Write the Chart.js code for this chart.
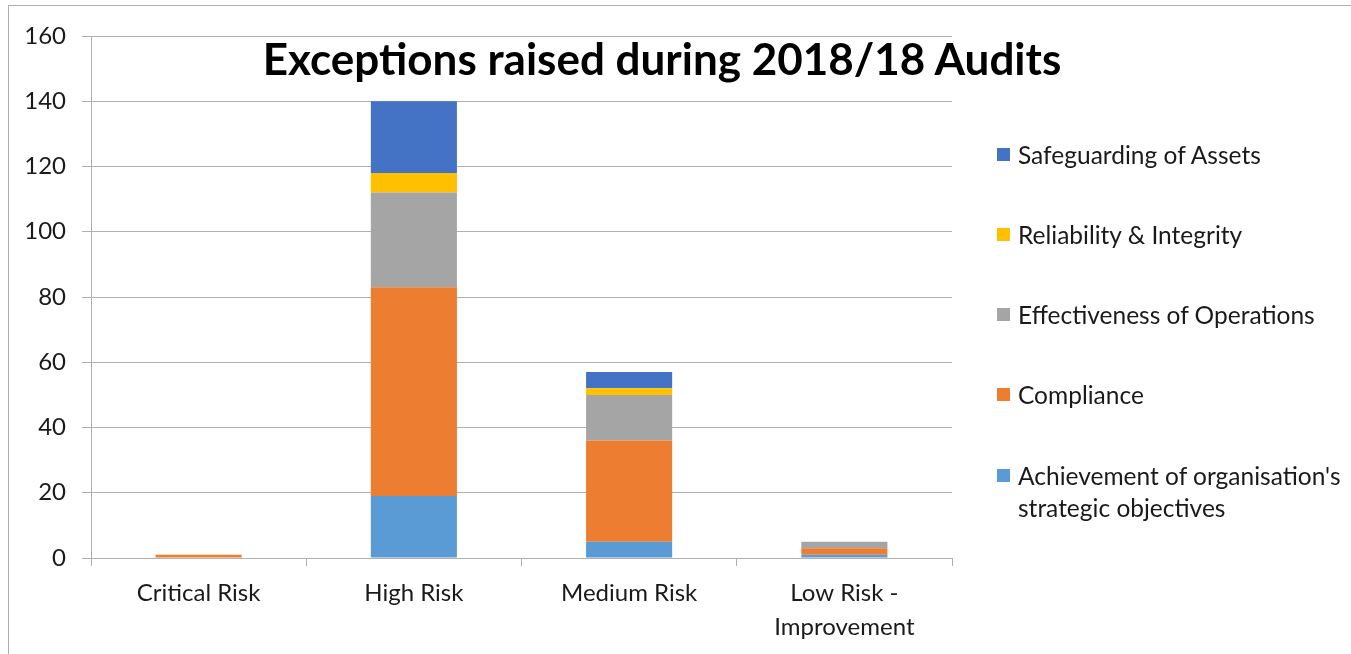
<!DOCTYPE html>
<html lang="en">
<head>
    <meta charset="UTF-8">
    <title>Exceptions raised during 2018/18 Audits</title>
    <script src="https://cdn.jsdelivr.net/npm/chart.js"></script>
    <style>
        body, html {
            margin: 0;
            padding: 0;
            background: #fff;
            font-family: Lato, sans-serif;
        }
        #wrap {
            position: relative;
            width: 1351px;
            height: 654px;
            overflow: hidden;
        }
        #frame {
            position: absolute;
            left: 8px;
            top: 5px;
            width: 1400px;
            height: 700px;
            border: 1px solid #b0b0b0;
        }
        #title {
            position: absolute;
            left: 0;
            width: 1324px;
            top: 32px;
            text-align: center;
            font-weight: bold;
            font-size: 44px;
            line-height: 52px;
            color: #000;
        }
        #legend {
            position: absolute;
            left: 997px;
            top: 0;
            font-size: 24.5px;
            color: #1a1a1a;
        }
        .item {
            position: absolute;
            left: 0;
            white-space: nowrap;
            line-height: 32px;
        }
        .box {
            position: absolute;
            left: 0;
            width: 13px;
            height: 13px;
        }
        .txt {
            position: absolute;
            left: 21px;
        }
    </style>
</head>
<body>
<div id="wrap">
    <div id="frame"></div>
    <canvas id="chart"></canvas>
    <div id="title">Exceptions raised during 2018/18 Audits</div>
    <div id="legend"></div>
</div>

<script>
    // categories and series
    const categories = ['Critical Risk', 'High Risk', 'Medium Risk', ['Low Risk -', 'Improvement']];
    const achievement = [0, 19, 5, 1];
    const compliance = [1, 64, 31, 2];
    const effectiveness = [0, 29, 14, 2];
    const reliability = [0, 6, 2, 0];
    const safeguarding = [0, 22, 5, 0];
    const yTicks = [0, 20, 40, 60, 80, 100, 120, 140, 160];

    const seriesNames = [
        "Achievement of organisation's strategic objectives",
        'Compliance',
        'Effectiveness of Operations',
        'Reliability & Integrity',
        'Safeguarding of Assets'
    ];
    const seriesColors = ['#5b9bd5', '#ed7d31', '#a5a5a5', '#ffc000', '#4472c4'];
    const seriesValues = [achievement, compliance, effectiveness, reliability, safeguarding];

    const datasets = seriesValues.map((vals, i) => ({
        label: seriesNames[i],
        data: vals,
        backgroundColor: seriesColors[i],
        borderWidth: 0,
        categoryPercentage: 1,
        barPercentage: 0.4
    }));

    const gridColor = '#b0b0b0';
    const tickFont = { family: 'Lato', size: 24, lineHeight: '34px' };

    new Chart(document.getElementById('chart'), {
        type: 'bar',
        data: { labels: categories, datasets: datasets },
        options: {
            responsive: true,
            maintainAspectRatio: false,
            animation: false,
            layout: { padding: { left: 0, top: 36, right: 399, bottom: 0 } },
            plugins: {
                legend: { display: false },
                tooltip: { enabled: false },
                title: { display: false }
            },
            scales: {
                x: {
                    stacked: true,
                    afterFit: s => { s.height = 96; },
                    grid: {
                        offset: true,
                        drawOnChartArea: false,
                        drawTicks: true,
                        tickLength: 8,
                        color: gridColor
                    },
                    border: { color: gridColor, width: 1 },
                    ticks: { color: '#1a1a1a', font: tickFont, padding: 10, maxRotation: 0, autoSkip: false }
                },
                y: {
                    stacked: true,
                    min: 0,
                    max: 160,
                    afterFit: s => { s.width = 91; },
                    afterBuildTicks: s => { s.ticks = yTicks.map(v => ({ value: v })); },
                    grid: { color: gridColor, tickLength: 9, drawTicks: true },
                    border: { color: gridColor, width: 1 },
                    ticks: { color: '#1a1a1a', font: tickFont, padding: 16 }
                }
            }
        }
    });

    // legend on the right, top item = last series
    const legend = document.getElementById('legend');
    const rows = [155, 235, 315, 395, 476];
    for (let i = seriesNames.length - 1, r = 0; i >= 0; i--, r++) {
        const item = document.createElement('div');
        item.className = 'item';
        item.style.top = (rows[r] - 16) + 'px';
        const box = document.createElement('div');
        box.className = 'box';
        box.style.background = seriesColors[i];
        box.style.top = '9px';
        const txt = document.createElement('div');
        txt.className = 'txt';
        txt.innerHTML = i === 0 ? "Achievement of organisation's<br>strategic objectives" : seriesNames[i].replace('&', '&amp;');
        item.appendChild(box);
        item.appendChild(txt);
        legend.appendChild(item);
    }
</script>
</body>
</html>
